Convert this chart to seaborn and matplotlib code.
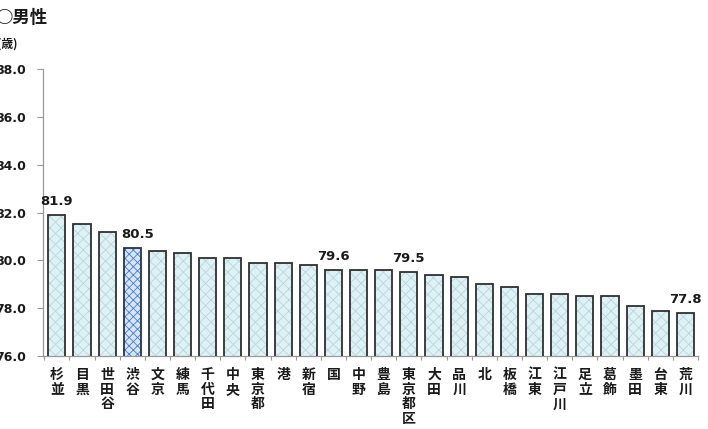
import matplotlib
matplotlib.use("Agg")
import matplotlib.pyplot as plt
from matplotlib.patches import Rectangle
from matplotlib.ticker import FixedLocator, FormatStrFormatter
import seaborn as sns

# 男性の平均寿命（特別区・東京都・国）
districts = ["杉並", "目黒", "世田谷", "渋谷", "文京", "練馬", "千代田", "中央",
             "東京都", "港", "新宿", "国", "中野", "豊島", "東京都区", "大田",
             "品川", "北", "板橋", "江東", "江戸川", "足立", "葛飾", "墨田",
             "台東", "荒川"]
life_expectancy = [81.9, 81.5, 81.2, 80.5, 80.4, 80.3, 80.1, 80.1,
                   79.9, 79.9, 79.8, 79.6, 79.6, 79.6, 79.5, 79.4,
                   79.3, 79.0, 78.9, 78.6, 78.6, 78.5, 78.5, 78.1,
                   77.9, 77.8]
highlight = "渋谷"
labeled = ["杉並", "渋谷", "国", "東京都区", "荒川"]
y_ticks = [76.0, 78.0, 80.0, 82.0, 84.0, 86.0, 88.0]

sns.set_theme(style="white")
plt.rcParams["font.family"] = ["Noto Sans CJK JP", "DejaVu Sans"]
plt.rcParams["hatch.linewidth"] = 0.6

fig = plt.figure(figsize=(7.08, 4.29), dpi=100)
ax = fig.add_axes([43 / 708, 73 / 429, 655 / 708, 287 / 429])

base_fill, base_hatch = "#dcf2f6", "#c0d3d8"
hi_fill, hi_hatch = "#d3e5f6", "#4a7cc6"
palette = {d: (hi_fill if d == highlight else base_fill) for d in districts}

sns.barplot(x=districts, y=life_expectancy, hue=districts, palette=palette,
            legend=False, width=0.68, saturation=1, ax=ax, linewidth=0)

bars = list(ax.patches)
for d, patch in zip(districts, bars):
    is_hi = d == highlight
    patch.set_hatch("xxxx" if is_hi else "xxx")
    patch.set_edgecolor(hi_hatch if is_hi else base_hatch)
    patch.set_linewidth(0)
    # dark outline drawn over the hatched fill
    ax.add_patch(Rectangle((patch.get_x(), patch.get_y()), patch.get_width(),
                           patch.get_height(), fill=False,
                           edgecolor="#27324a" if is_hi else "#2f2f2f",
                           linewidth=1.3, zorder=3))

for d, v, patch in zip(districts, life_expectancy, bars):
    if d in labeled:
        cx = patch.get_x() + patch.get_width() / 2
        if d == highlight:
            cx += 0.22
        ax.annotate(f"{v:.1f}", (cx, v), xytext=(0, 5), textcoords="offset points",
                    ha="center", va="bottom", fontsize=9.5, fontweight="bold",
                    family="DejaVu Sans", color="#1a1a1a")

ax.set_ylim(76, 88)
ax.set_xlim(-0.55, len(districts) - 0.5)
ax.yaxis.set_major_locator(FixedLocator(y_ticks))
ax.yaxis.set_major_formatter(FormatStrFormatter("%.1f"))
for lab in ax.get_yticklabels():
    lab.set_fontweight("bold")
    lab.set_family("DejaVu Sans")
ax.tick_params(axis="y", which="major", left=True, length=4, width=0.8,
               color="#999999", pad=8, labelsize=9, labelcolor="#1a1a1a")

ax.set_xticks(range(len(districts)))
ax.set_xticklabels(["\n".join(d) for d in districts], fontsize=10,
                   fontweight="bold", color="#1a1a1a", linespacing=1.07,
                   va="top")
ax.set_xticks([i + 0.5 for i in range(-1, len(districts))], minor=True)
ax.tick_params(axis="x", which="major", bottom=False, length=0, pad=8.5)
ax.tick_params(axis="x", which="minor", bottom=True, length=3, width=0.8,
               color="#999999")

for side in ("top", "right"):
    ax.spines[side].set_visible(False)
for side in ("left", "bottom"):
    ax.spines[side].set_color("#999999")
    ax.spines[side].set_linewidth(0.9)
ax.set_xlabel("")
ax.set_ylabel("")

fig.text(-5 / 708, 1 - 18 / 429, "○男性", fontsize=12.5, fontweight="bold",
         va="center", ha="left", color="#1a1a1a")
fig.text(-3 / 708, 1 - 44 / 429, "(歳)", fontsize=8.5, fontweight="bold",
         va="center", ha="left", color="#1a1a1a")

fig.savefig("out.png", dpi=100)
